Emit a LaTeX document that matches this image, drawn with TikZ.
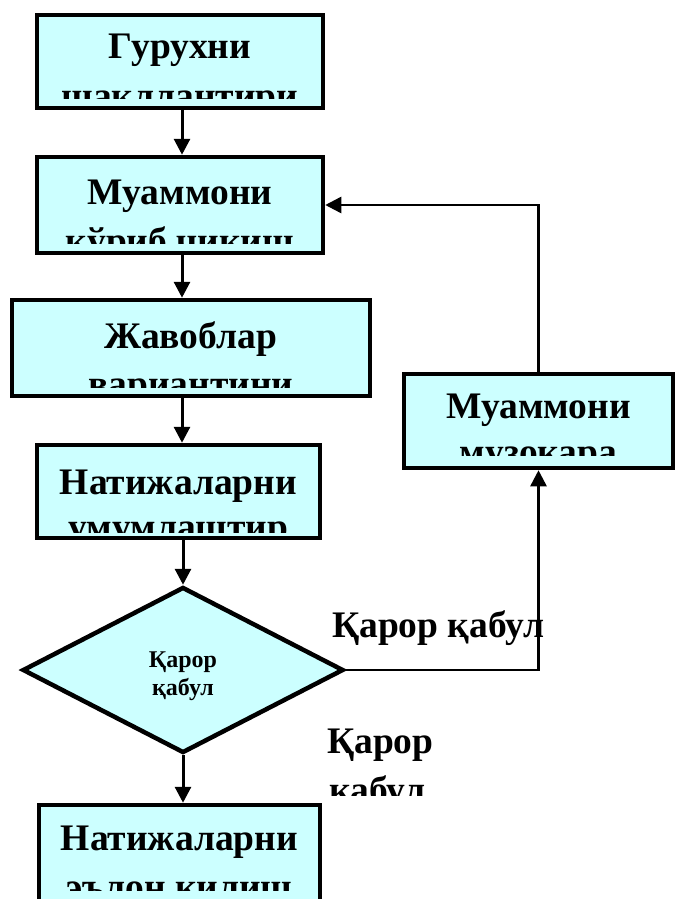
\documentclass[tikz,border=0pt]{standalone}
\usepackage{fontspec}
\setmainfont{Liberation Serif}
\usetikzlibrary{arrows.meta,shapes.geometric}
\definecolor{boxfill}{RGB}{204,255,255}
\tikzset{
  procbox/.style={draw=black,fill=boxfill,line width=4.5pt,inner sep=0pt},
  decbox/.style={diamond,draw=black,fill=boxfill,line width=4.5pt,inner sep=0pt},
  bigtxt/.style={font=\fontsize{37.5}{44}\selectfont\bfseries,inner sep=0pt,anchor=base},
  smalltxt/.style={font=\fontsize{24}{28}\selectfont\bfseries,inner sep=0pt,anchor=base},
  mainarr/.style={line width=3pt,-{Triangle[width=16pt,length=16pt]}},
  sidearr/.style={line width=2.5pt,-{Triangle[width=16pt,length=16pt]}},
}
\begin{document}
\begin{tikzpicture}[x=1pt,y=-1pt]
\useasboundingbox (0,0) rectangle (675,899);
\coordinate (ax) at (182,0);
% boxes
\node[procbox,minimum width=286pt,minimum height=93pt] (b1) at (180,61.5) {};
\node[procbox,minimum width=286pt,minimum height=96pt] (b2) at (180,205) {};
\node[procbox,minimum width=358pt,minimum height=96pt] (b3) at (191,348) {};
\node[procbox,minimum width=283pt,minimum height=93pt] (b4) at (178.5,491.5) {};
\node[decbox,minimum width=321pt,minimum height=166pt] (d) at (183,670) {};
\node[procbox,minimum width=281pt,minimum height=120pt] (b5) at (179.5,865) {};
\node[procbox,minimum width=269pt,minimum height=94pt] (r) at (538.5,421) {};
% box texts (clipped as in the original)
\begin{scope}
\clip (41,19) rectangle (319,98);
\node[bigtxt] (t1a) at (180,59) {Гурухни};
\node[bigtxt] (t1b) at (180,108) {шакллантири};
\end{scope}
\begin{scope}
\clip (41,161) rectangle (319,243);
\node[bigtxt] (t2a) at (180,204) {Муаммони};
\node[bigtxt] (t2b) at (180,253) {кўриб чиқиш};
\end{scope}
\begin{scope}
\clip (16,304) rectangle (366,387);
\node[bigtxt] (t3a) at (191,348) {Жавоблар};
\node[bigtxt] (t3b) at (191,396) {вариантини};
\end{scope}
\begin{scope}
\clip (41,449) rectangle (316,532);
\node[bigtxt] (t4a) at (178.5,494) {Натижаларни};
\node[bigtxt] (t4b) at (178.5,539) {умумлаштир};
\end{scope}
\begin{scope}
\clip (43,809) rectangle (316,890);
\node[bigtxt] (t5a) at (179.5,850) {Натижаларни};
\node[bigtxt] (t5b) at (179.5,899) {эълон қилиш};
\end{scope}
\begin{scope}
\clip (408,378) rectangle (669,455);
\node[bigtxt] (tra) at (538.5,418) {Муаммони};
\node[bigtxt] (trb) at (538.5,464) {музокара};
\end{scope}
% diamond text
\node[smalltxt] (tda) at (183,667) {Қарор};
\node[smalltxt] (tdb) at (183,695) {қабул};
% labels
\node[bigtxt,anchor=base west] (l1) at (332,637) {Қарор қабул};
\begin{scope}
\clip (300,700) rectangle (480,795);
\node[bigtxt,anchor=base west] (l2a) at (327,753) {Қарор};
\node[bigtxt,anchor=base west] (l2b) at (329,802) {қабул};
\end{scope}
% connectors
\draw[mainarr] (b1.south -| ax) -- (b2.north -| ax);
\draw[mainarr] (b2.south -| ax) -- (b3.north -| ax);
\draw[mainarr] (b3.south -| ax) -- (b4.north -| ax);
\draw[mainarr] (b4.south -| d.north) -- (d.north);
\draw[mainarr] (d.south) -- (d.south |- b5.north);
\draw[sidearr] (d.east) -| (r.south);
\draw[sidearr] (r.north) |- (b2.east);
\end{tikzpicture}
\end{document}
